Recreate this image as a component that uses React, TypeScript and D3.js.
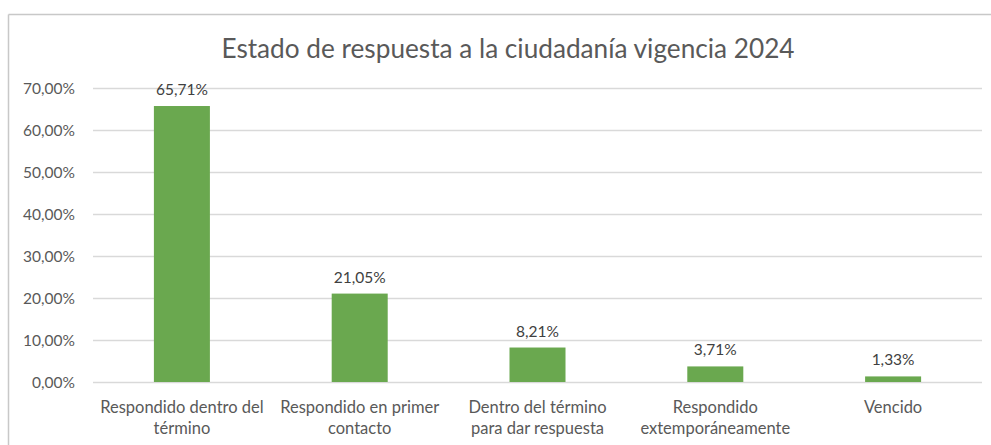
import React, { useEffect, useRef } from 'react';
import * as d3 from 'd3';

const categories = [
  ['Respondido dentro del', 'término'],
  ['Respondido en primer', 'contacto'],
  ['Dentro del término', 'para dar respuesta'],
  ['Respondido', 'extemporáneamente'],
  ['Vencido'],
];
const values = [65.71, 21.05, 8.21, 3.71, 1.33];
const yTicks = [0, 10, 20, 30, 40, 50, 60, 70];
const title = 'Estado de respuesta a la ciudadanía vigencia 2024';

const fmt = (v: number) => v.toFixed(2).replace('.', ',') + '%';

export default function App() {
  const svgRef = useRef<SVGSVGElement>(null);

  useEffect(() => {
    const w = 991;
    const h = 445;
    const svg = d3.select(svgRef.current).attr('width', w).attr('height', h);
    svg.selectAll('*').remove();

    const font = 'Lato, "Open Sans", sans-serif';
    const textCol = '#595959';

    // chart frame (only top and left edges visible in the crop)
    svg.append('line').attr('x1', 8.5).attr('x2', w).attr('y1', 14.5).attr('y2', 14.5)
      .attr('stroke', '#c8c8c8').attr('stroke-width', 1.5);
    svg.append('line').attr('x1', 8.5).attr('x2', 8.5).attr('y1', 14.5).attr('y2', h)
      .attr('stroke', '#c8c8c8').attr('stroke-width', 1.5);

    const left = 93;
    const right = 982;
    const top = 88;
    const bottom = 382;

    const x = d3.scaleBand<number>()
      .domain(d3.range(values.length))
      .range([left, right])
      .paddingInner(0.685)
      .paddingOuter(0.3425);
    const y = d3.scaleLinear().domain([0, 70]).range([bottom, top]);

    // gridlines
    svg.append('g')
      .selectAll('line')
      .data(yTicks)
      .join('line')
      .attr('x1', left).attr('x2', right)
      .attr('y1', d => Math.round(y(d)) + 0.5).attr('y2', d => Math.round(y(d)) + 0.5)
      .attr('stroke', '#d9d9d9').attr('stroke-width', 1.3);

    // y labels
    svg.append('g')
      .selectAll('text')
      .data(yTicks)
      .join('text')
      .attr('x', 75)
      .attr('y', d => y(d) + 5.5)
      .attr('text-anchor', 'end')
      .attr('font-family', font)
      .attr('font-size', 15.5)
      .attr('fill', textCol)
      .text(d => fmt(d));

    // bars
    svg.append('g')
      .selectAll('rect')
      .data(values)
      .join('rect')
      .attr('x', (_, i) => x(i)!)
      .attr('width', x.bandwidth())
      .attr('y', d => y(d))
      .attr('height', d => bottom - y(d))
      .attr('fill', '#6aa84f');

    // data labels
    svg.append('g')
      .selectAll('text')
      .data(values)
      .join('text')
      .attr('x', (_, i) => x(i)! + x.bandwidth() / 2)
      .attr('y', d => y(d) - 11)
      .attr('text-anchor', 'middle')
      .attr('font-family', font)
      .attr('font-size', 15.5)
      .attr('fill', '#404040')
      .text(d => fmt(d));

    // category labels
    const cat = svg.append('g')
      .selectAll('text')
      .data(categories)
      .join('text')
      .attr('text-anchor', 'middle')
      .attr('font-family', font)
      .attr('font-size', 16.5)
      .attr('fill', textCol);
    cat.each(function (lines, i) {
      const cx = x(i)! + x.bandwidth() / 2;
      d3.select(this)
        .selectAll('tspan')
        .data(lines)
        .join('tspan')
        .attr('x', cx)
        .attr('y', (_, j) => 413 + j * 21)
        .text(d => d);
    });

    // title
    svg.append('text')
      .attr('x', 508)
      .attr('y', 58)
      .attr('text-anchor', 'middle')
      .attr('font-family', font)
      .attr('font-size', 26.2)
      .attr('fill', textCol)
      .text(title);
  }, []);

  return (
    <div style={{ position: 'absolute', left: 0, top: 0 }}>
      <svg ref={svgRef}></svg>
    </div>
  );
}
